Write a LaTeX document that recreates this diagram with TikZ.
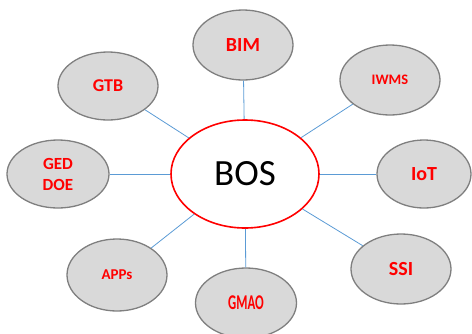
\documentclass[tikz,border=0pt]{standalone}
\usepackage{fontspec}
\setmainfont{Carlito}
\usetikzlibrary{shapes.geometric}
\definecolor{satfill}{HTML}{D9D9D9}
\definecolor{satdraw}{HTML}{7F7F7F}
\definecolor{linkblue}{HTML}{5B9BD5}
\definecolor{txtred}{HTML}{FF0000}
\tikzset{
  sat/.style={ellipse, draw=satdraw, fill=satfill, line width=1.3pt, inner sep=0pt,
    minimum width=100pt, minimum height=70pt, text=txtred, font=\bfseries\fontsize{20}{22}\selectfont, align=center},
  hub/.style={ellipse, draw=txtred, fill=white, line width=1.6pt, inner sep=0pt,
    minimum width=148pt, minimum height=108pt, font=\fontsize{37}{40}\selectfont},
  link/.style={draw=linkblue, line width=0.8pt}
}
\begin{document}
\begin{tikzpicture}[x=1pt,y=-1pt]
\useasboundingbox (0,0) rectangle (472,333);
\clip (0,0) rectangle (472,333);
\node[hub] (bos) at (245,174) {BOS};
\node[sat] (bim) at (243,45) {BIM};
\node[sat, minimum height=68pt, font=\bfseries\fontsize{18}{20}\selectfont] (gtb) at (108,86) {GTB};
\node[sat, font=\bfseries\fontsize{14.5}{16}\selectfont] (iwms) at (390,80) {IWMS};
\node[sat, minimum width=102pt, minimum height=68pt, font=\bfseries\fontsize{17}{21}\selectfont] (ged) at (58,174) {GED\\DOE};
\node[sat, minimum width=94pt, minimum height=68pt] (iot) at (424,174) {IoT};
\node[sat, minimum height=72pt, font=\bfseries\fontsize{15}{16}\selectfont] (apps) at (117,275) {APPs};
\node[sat] (ssi) at (401,269) {SSI};
\node[sat, minimum width=101pt] (gmao) at (246,303) {\scalebox{0.64}[1.05]{GMAO}};
\draw[link] (bos) -- (bim);
\draw[link] (bos) -- (gtb);
\draw[link] (bos) -- (iwms);
\draw[link] (bos) -- (ged);
\draw[link] (bos) -- (iot);
\draw[link] (bos) -- (apps);
\draw[link] (bos) -- (ssi);
\draw[link] (bos) -- (gmao);
\end{tikzpicture}
\end{document}
